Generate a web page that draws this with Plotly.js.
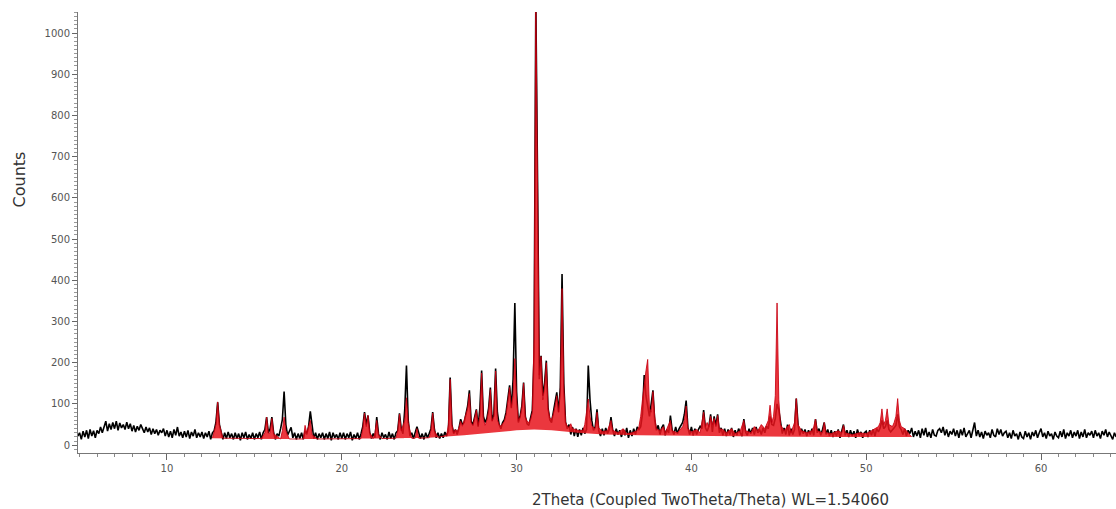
<!DOCTYPE html>
<html>
<head>
<meta charset="utf-8">
<script src="https://cdn.plot.ly/plotly-3.0.1.min.js"></script>
<style>html,body{margin:0;padding:0;background:#fff;}#chart{width:1116px;height:509px;}</style>
</head>
<body>
<div id="chart"></div>
<script>
// Measured pattern: counts on a uniform 0.1° scan grid starting at 4.9°
const scanStart = 4.9;
const scanStep = 0.1;
const measuredCounts = [
  22,
  30,14,34,20,36,16,38,22,35,18,
  36,28,44,30,48,58,34,52,38,55,
  40,58,36,54,42,50,38,56,40,52,
  34,48,32,46,36,50,40,30,44,32,
  42,26,40,28,38,24,36,30,40,22,
  36,20,34,18,38,24,44,22,32,18,
  34,20,36,16,32,22,38,18,30,20,
  32,16,30,20,34,14,30,35,55,104,
  50,28,14,30,16,32,18,28,14,30,
  16,28,12,30,18,32,14,26,16,30,
  14,28,18,32,14,30,38,68,30,40,
  68,30,14,28,22,40,62,130,50,24,
  32,43,18,30,14,28,16,30,14,35,
  26,45,82,40,16,30,14,28,18,30,
  14,28,16,32,12,30,18,26,14,30,
  16,30,14,28,18,32,12,26,16,30,
  14,28,45,80,50,72,30,16,28,18,
  68,28,14,30,18,26,14,32,16,28,
  14,30,35,77,40,28,85,193,60,22,
  30,16,34,45,30,16,28,14,30,18,
  28,40,80,38,18,30,16,28,18,32,
  22,35,164,50,28,38,26,40,63,50,
  55,80,95,133,58,50,70,87,45,90,
  181,70,55,65,90,140,60,75,186,80,
  50,40,55,62,80,110,145,90,160,345,
  130,55,70,95,152,70,52,48,70,85,
  220,1080,640,160,217,120,150,205,90,62,
  55,80,100,128,80,140,415,150,56,40,
  50,26,44,22,40,20,38,24,42,28,
  38,193,110,60,36,45,87,35,22,40,
  24,42,28,38,68,36,22,40,26,36,
  20,38,24,42,18,36,22,40,26,44,
  38,45,75,170,120,90,70,100,133,60,
  36,48,26,42,50,24,38,30,72,36,
  26,44,28,40,48,55,75,108,42,26,
  44,24,40,26,38,46,40,85,42,34,
  45,75,32,70,48,75,30,42,24,40,
  22,38,26,42,20,36,24,40,30,22,
  63,32,24,40,28,42,26,44,30,38,
  26,42,30,46,40,70,50,48,65,100,
  85,50,28,42,26,50,24,40,26,38,
  113,50,24,40,28,38,22,36,26,40,
  24,63,30,40,24,38,55,26,38,22,
  36,20,34,22,38,18,32,50,24,36,
  20,36,22,34,18,38,24,32,18,30,
  34,20,36,24,38,22,40,32,42,60,
  40,45,60,38,32,36,42,48,75,45,
  38,26,40,22,36,28,42,20,34,22,
  36,18,40,24,42,20,32,18,38,24,
  22,36,40,30,44,24,38,20,34,26,
  40,22,36,18,38,24,42,20,30,36,
  18,34,55,22,36,20,32,16,34,24,
  30,18,38,24,20,40,26,38,22,30,
  34,18,30,16,36,22,28,14,32,20,
  16,34,20,30,14,32,22,36,18,30,
  40,20,30,16,34,22,28,14,32,22,
  18,34,20,38,16,30,22,36,18,32,
  22,36,16,32,20,38,18,30,24,34,
  18,36,22,30,16,34,24,38,20,32,
  24,14,30,20
];

// Calculated (fitted) pattern, drawn in red
const calcTheta = [
  12.6,12.8,12.9,13.0,13.2,
  15.4,15.6,15.7,15.8,15.9,16.0,16.1,16.5,16.6,16.7,16.8,17.0,
  17.8,17.9,18.0,18.2,18.3,18.6,
  21.1,21.2,21.3,21.4,21.5,21.6,21.8,21.9,22.0,22.1,22.3,
  23.1,23.2,23.3,23.4,23.6,23.7,23.8,24.0,24.2,24.3,24.4,
  25.0,25.1,25.2,25.3,25.5,
  26.0,26.1,26.2,26.3,26.4,26.5,26.6,26.7,26.8,26.9,
  27.0,27.1,27.2,27.3,27.4,27.5,27.6,27.7,27.8,27.9,
  28.0,28.1,28.2,28.3,28.4,28.5,28.6,28.7,28.8,28.9,
  29.0,29.1,29.2,29.3,29.4,29.5,29.6,29.7,29.8,29.9,
  30.0,30.1,30.2,30.3,30.4,30.5,30.6,30.7,30.8,30.9,
  31.0,31.1,31.2,31.3,31.4,31.5,31.6,31.7,31.8,31.9,
  32.0,32.1,32.2,32.3,32.4,32.5,32.6,32.7,32.8,32.9,
  33.0,33.1,33.2,33.4,33.6,33.8,33.9,34.0,34.1,34.2,34.3,34.5,34.6,34.7,34.9,
  35.2,35.4,35.5,35.8,36.1,36.3,36.6,36.9,
  37.0,37.1,37.2,37.3,37.4,37.5,37.6,37.7,37.8,37.9,
  38.0,38.2,38.4,38.5,38.8,38.9,39.2,39.5,39.6,39.7,39.8,
  40.0,40.3,40.5,40.7,40.8,40.9,41.0,41.1,41.2,41.3,41.4,41.5,41.6,41.8,
  42.0,42.3,42.5,42.8,43.0,43.1,43.4,43.6,43.8,
  44.0,44.2,44.4,44.5,44.6,44.7,44.8,44.9,45.0,45.1,45.3,45.6,45.7,45.9,
  46.0,46.1,46.3,46.6,46.9,47.0,47.1,47.2,47.5,47.6,47.7,
  48.0,48.4,48.6,48.7,48.8,49.2,49.6,
  50.0,50.3,50.5,50.7,50.8,50.9,51.0,51.1,51.2,51.3,51.5,51.6,51.7,51.8,51.9,
  52.0,52.2,52.4,52.6
];
const calcCounts = [
  17,50,105,50,17,
  16,30,68,28,30,65,28,15,35,68,35,15,
  15,48,30,60,25,15,
  16,40,78,45,72,30,16,30,60,25,16,
  17,35,75,35,60,115,55,17,17,40,17,
  18,35,78,35,19,
  24,50,160,50,30,38,33,42,58,46,
  60,75,90,125,55,47,65,85,48,70,
  175,62,48,60,85,135,58,70,180,62,
  50,46,52,58,75,105,140,92,120,210,
  112,60,68,92,150,68,58,55,62,80,
  260,1080,700,170,215,110,140,200,88,66,
  62,75,95,120,80,130,380,140,56,46,
  43,52,40,37,35,36,50,80,112,70,46,40,80,42,33,
  35,60,36,30,40,28,30,35,
  45,70,110,150,180,208,90,80,130,70,
  40,35,45,30,60,35,30,45,60,95,40,
  32,38,30,80,45,55,45,70,50,65,45,72,40,38,
  30,40,28,35,60,35,30,45,35,
  50,40,60,97,55,70,120,345,110,50,35,50,30,55,
  113,50,35,30,35,45,63,35,30,55,30,
  28,35,30,48,30,25,30,
  28,35,40,45,55,88,50,60,88,50,45,55,70,113,60,
  45,40,30,20
];

// Amorphous background under the calculated pattern
const bgTheta = [12.6, 14, 18, 22, 25, 27, 28.5, 30, 31, 32, 33.5, 35, 37, 40, 44, 48, 52.6];
const bgCounts = [17, 16, 15, 16, 18, 24, 30, 36, 38, 36, 30, 26, 24, 22, 21, 20, 20];

const xTickVals = [10, 20, 30, 40, 50, 60];
const yTickVals = [0, 100, 200, 300, 400, 500, 600, 700, 800, 900, 1000];

const scanTheta = measuredCounts.map((_, i) => +(scanStart + i * scanStep).toFixed(2));

const traces = [
  {
    x: scanTheta, y: measuredCounts, type: 'scatter', mode: 'lines',
    line: {width: 1.6, color: '#000000'}, showlegend: false
  },
  {
    x: bgTheta, y: bgCounts, type: 'scatter', mode: 'lines',
    line: {width: 0, color: 'rgba(0,0,0,0)'}, hoverinfo: 'skip', showlegend: false
  },
  {
    x: calcTheta, y: calcCounts, type: 'scatter', mode: 'lines',
    fill: 'tonexty', fillcolor: 'rgba(232,20,28,0.85)',
    line: {width: 1, color: 'rgba(200,0,16,0.85)'}, showlegend: false
  }
];

const axisFont = {family: 'DejaVu Sans, Liberation Sans, sans-serif', size: 10, color: '#555'};

const layout = {
  width: 1116, height: 509,
  margin: {l: 78, r: 0, t: 12, b: 56},
  paper_bgcolor: '#ffffff', plot_bgcolor: '#ffffff',
  showlegend: false,
  xaxis: {
    range: [4.91, 64.29], tickvals: xTickVals, ticktext: xTickVals.map(String),
    ticks: 'outside', ticklen: 6, tickcolor: '#666', tickwidth: 1,
    minor: {dtick: 1, ticks: 'outside', ticklen: 3, tickcolor: '#888', showgrid: false},
    showline: true, linecolor: '#777', linewidth: 1, showgrid: false, zeroline: false,
    tickfont: axisFont
  },
  yaxis: {
    range: [-19, 1051], tickvals: yTickVals, ticktext: yTickVals.map(String),
    ticks: 'outside', ticklen: 5, tickcolor: '#666', tickwidth: 1,
    minor: {dtick: 10, ticks: 'outside', ticklen: 3, tickcolor: '#999', showgrid: false},
    showline: true, linecolor: '#777', linewidth: 1, showgrid: false, zeroline: false,
    tickfont: axisFont
  },
  annotations: [
    {
      text: 'Counts', xref: 'paper', yref: 'paper', x: -0.056, y: 0.62,
      textangle: -90, showarrow: false, xanchor: 'center', yanchor: 'middle',
      font: {family: 'DejaVu Sans, Liberation Sans, sans-serif', size: 16, color: '#333'}
    },
    {
      text: '2Theta (Coupled TwoTheta/Theta) WL=1.54060', xref: 'paper', yref: 'paper',
      x: 0.609, y: -0.107, showarrow: false, xanchor: 'center', yanchor: 'middle',
      font: {family: 'DejaVu Sans, Liberation Sans, sans-serif', size: 15, color: '#333'}
    }
  ]
};

Plotly.newPlot('chart', traces, layout, {displayModeBar: false, staticPlot: true});
</script>
</body>
</html>
